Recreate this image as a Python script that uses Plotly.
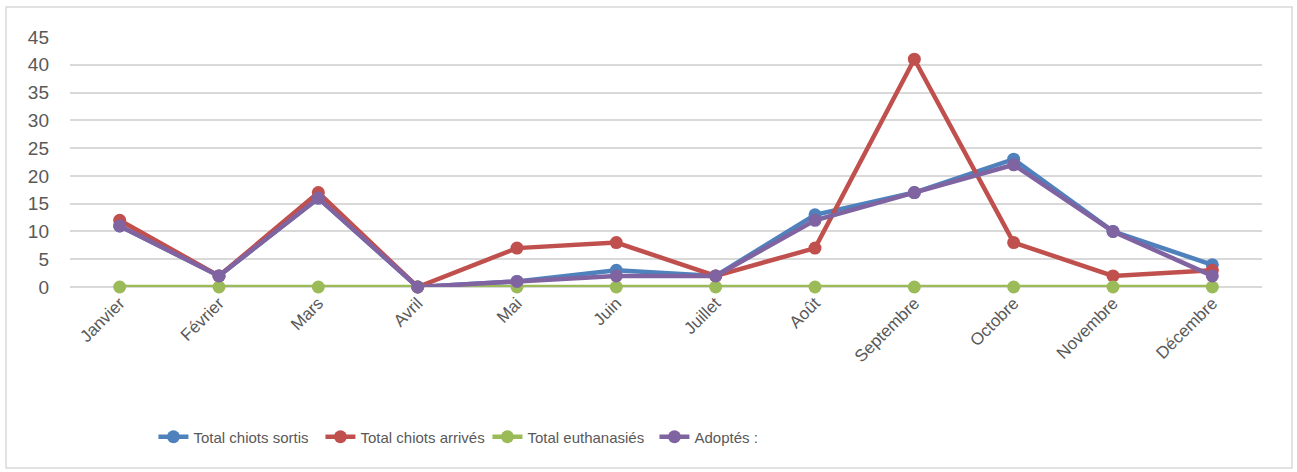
import plotly.graph_objects as go

mois = ["Janvier", "Février", "Mars", "Avril", "Mai", "Juin", "Juillet",
        "Août", "Septembre", "Octobre", "Novembre", "Décembre"]
chiots_sortis = [11, 2, 16, 0, 1, 3, 2, 13, 17, 23, 10, 4]
chiots_arrives = [12, 2, 17, 0, 7, 8, 2, 7, 41, 8, 2, 3]
euthanasies = [0, 0, 0, 0, 0, 0, 0, 0, 0, 0, 0, 0]
adoptes = [11, 2, 16, 0, 1, 2, 2, 12, 17, 22, 10, 2]

series = [
    ("Total chiots sortis", chiots_sortis, "#4f81bd"),
    ("Total chiots arrivés", chiots_arrives, "#c0504d"),
    ("Total euthanasiés", euthanasies, "#9bbb59"),
    ("Adoptés :", adoptes, "#8064a2"),
]

fig = go.Figure()
for name, vals, col in series:
    fig.add_trace(go.Scatter(
        x=mois, y=vals, name=name, mode="lines+markers",
        line=dict(color=col, width=4.5),
        marker=dict(color=col, size=13),
        cliponaxis=False,
    ))

font = "Liberation Sans, sans-serif"
fig.update_layout(
    width=1297, height=472,
    margin=dict(l=70, r=35, t=37, b=185),
    paper_bgcolor="white", plot_bgcolor="white",
    font=dict(family=font, size=16, color="#595959"),
    showlegend=True,
    legend=dict(orientation="h", x=0.07, xanchor="left", y=-0.6, yanchor="middle",
                font=dict(size=15, color="#595959"), itemwidth=30,
                entrywidth=122, traceorder="normal"),
    xaxis=dict(type="category", range=[-0.5, 11.5], tickangle=-45,
               showgrid=False, showline=False, ticks="",
               tickfont=dict(size=17), ticklabelstandoff=2),
    yaxis=dict(range=[0, 45], dtick=5, showgrid=True, gridcolor="#d9d9d9",
               gridwidth=1.5, zeroline=True, zerolinecolor="#d9d9d9",
               zerolinewidth=1.5, showline=False, ticks="", ticklen=0,
               tickfont=dict(size=19), ticklabelstandoff=20),
    shapes=[dict(type="rect", xref="paper", yref="paper",
                 x0=-0.0537, x1=1.0252, y0=-0.724, y1=1.12,
                 line=dict(color="#d9d9d9", width=1.5), layer="below")],
)

fig.write_html("out.html", config={"displayModeBar": False},
               post_script="document.body.style.margin='0';")
